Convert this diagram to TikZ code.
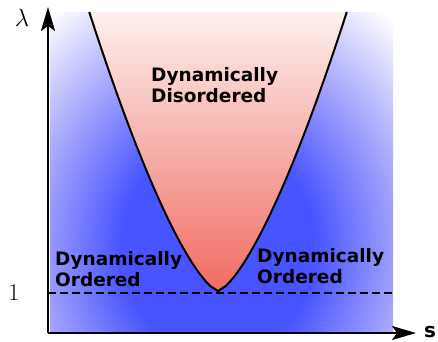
\documentclass[tikz,border=0pt]{standalone}
\usepackage{fontspec}
\newfontfamily\labelfont{DejaVu Sans}
\usetikzlibrary{arrows.meta}

\definecolor{glowcore}{RGB}{72,84,255}
\definecolor{glowmid}{RGB}{155,156,252}
\definecolor{disordertop}{RGB}{253,240,238}
\definecolor{disordermid}{RGB}{248,196,192}
\definecolor{disorderbot}{RGB}{240,108,98}

\pgfdeclareradialshading{orderedglow}{\pgfpointorigin}{color(0bp)=(glowcore); color(9bp)=(glowcore); color(16bp)=(glowmid); color(25bp)=(white); color(50bp)=(white)}

\tikzset{
  phase/.style={font=\labelfont\bfseries\fontsize{18.5}{21}\selectfont, align=left, anchor=north west, inner sep=0pt},
  axis/.style={line width=2pt, -{Stealth[length=24pt, width=14pt, inset=5pt]}}
}

\begin{document}
\begin{tikzpicture}[x=1pt, y=1pt]
  \useasboundingbox (-48,-8) rectangle (390,333);

  \def\vx{170}
  \def\vy{42}
  \def\h{279}

  % ordered phase background
  \begin{scope}
    \clip (2,0) rectangle (345,321);
    \shade[shading=orderedglow] (170,85) ellipse [x radius=270, y radius=300];
  \end{scope}

  % disordered region
  \path[top color=disordertop, middle color=disordermid, bottom color=disorderbot]
    plot[domain=\h:0.01, samples=60] ({\vx-2.5*(\x)^0.7},{\vy+\x})
    -- plot[domain=0.01:\h, samples=60] ({\vx+2.5*(\x)^0.7},{\vy+\x}) -- cycle;

  \coordinate (O) at (0,0);
  \coordinate (ytip) at (0,326);
  \coordinate (xtip) at (368,0);
  \coordinate (one) at (0,40);
  \coordinate (oneend) at (345,40);

  \draw[line width=1.5pt, dash pattern=on 8pt off 4pt] (one) -- (oneend);

  \draw[line width=2pt] plot[domain=\h:0.01, samples=60] ({\vx-2.5*(\x)^0.7},{\vy+\x})
    -- plot[domain=0.01:\h, samples=60] ({\vx+2.5*(\x)^0.7},{\vy+\x});

  \draw[axis] (O) -- (ytip);
  \draw[axis] (O) -- (xtip);

  \node (lambda) at (-26,315) {\fontsize{26}{26}\selectfont$\lambda$};
  \node (unit) at (-34,40) {\fontsize{24}{24}\selectfont 1};
  \node (s) at (382,1) {\labelfont\bfseries\fontsize{20}{20}\selectfont s};

  \node[phase] (disordered) at (103,266) {Dynamically\\Disordered};
  \node[phase] (orderedleft) at (7,82) {Dynamically\\Ordered};
  \node[phase] (orderedright) at (209,85) {Dynamically\\Ordered};
\end{tikzpicture}
\end{document}
